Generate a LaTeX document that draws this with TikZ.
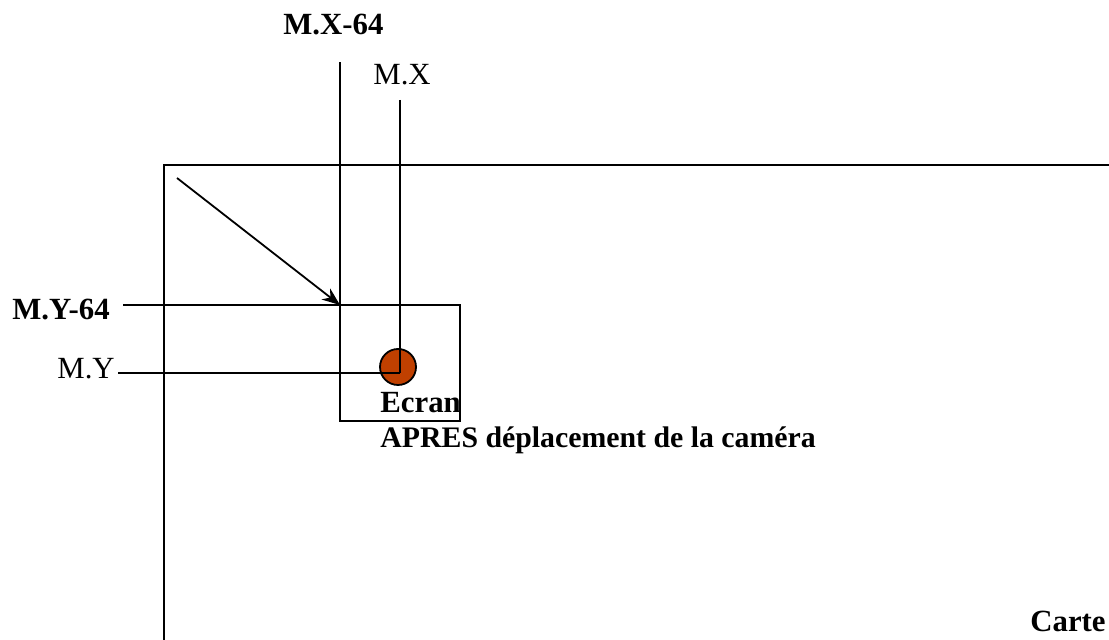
\documentclass[tikz,border=0pt]{standalone}
\usepackage{fontspec}
\setmainfont{Liberation Serif}
\usetikzlibrary{arrows.meta}
\definecolor{dotred}{RGB}{192,64,0}
\begin{document}
\begin{tikzpicture}[x=0.5pt,y=-0.5pt,
  lbl/.style={inner sep=0pt,anchor=base west,font=\fontsize{15.4}{18}\selectfont},
  blbl/.style={lbl,font=\fontsize{15.4}{18}\selectfont\bfseries},
  ln/.style={line width=0.9pt},
  thk/.style={line width=1.4pt}]
\useasboundingbox (0,0) rectangle (1109,640);
% big map rectangle (Carte)
\coordinate (cartebl) at (164,640);
\coordinate (cartetl) at (164,165);
\coordinate (cartetr) at (1109,165);
\draw[ln] (cartebl) -- (cartetl) -- (cartetr);
% screen rectangle
\coordinate (scrtl) at (340,305);
\coordinate (scrtr) at (460,305);
\coordinate (scrbl) at (340,421);
\coordinate (scrbr) at (460,421);
\coordinate (mx64top) at (340,62);
\coordinate (my64left) at (123,305);
\draw[ln] (my64left) -- (scrtr) -- (scrbr) -- (scrbl) -- (mx64top);
% arrow
\coordinate (arrstart) at (177,178);
\draw[ln,-{Stealth[length=9pt,width=7pt]}] (arrstart) -- (scrtl);
% circle and M.X / M.Y lines
\node[circle,draw,line width=0.9pt,fill=dotred,minimum size=18pt,inner sep=0pt] (dot) at (398,367) {};
\coordinate (mxtop) at (400,100);
\coordinate (center) at (400,373);
\coordinate (myleft) at (118,373);
\draw[thk] (mxtop) -- (center);
\draw[ln] (myleft) -- (center);
% labels
\node[blbl] (lmx64) at (283,35) {M.X-64};
\node[lbl] (lmx) at (373,85) {M.X};
\node[blbl] (lmy64) at (12,320) {M.Y-64};
\node[lbl] (lmy) at (57,379) {M.Y};
\node[blbl] (lecran) at (380,413) {Ecran};
\node[blbl,font=\fontsize{14.9}{18}\selectfont\bfseries] (lapres) at (380,448) {APRES déplacement de la caméra};
\node[blbl,anchor=base east] (lcarte) at (1106,632) {Carte};
\end{tikzpicture}
\end{document}
